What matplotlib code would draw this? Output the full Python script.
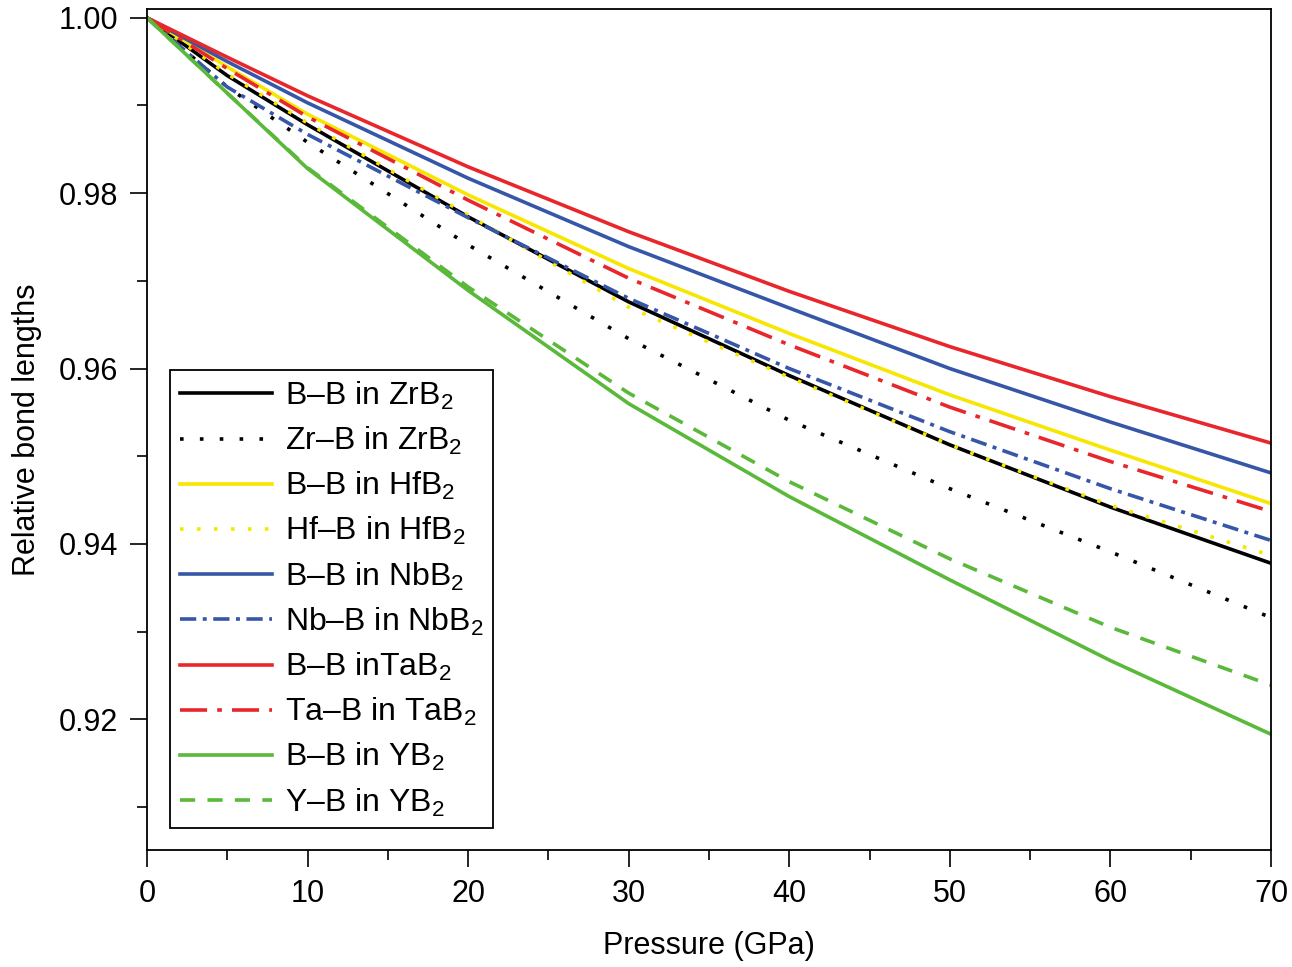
import matplotlib
matplotlib.use("Agg")
import matplotlib.pyplot as plt
from matplotlib.ticker import MultipleLocator, FormatStrFormatter

plt.rcParams['font.family'] = ['Liberation Sans', 'DejaVu Sans']
plt.rcParams['mathtext.fontset'] = 'custom'
plt.rcParams['mathtext.rm'] = 'Liberation Sans'
plt.rcParams['mathtext.it'] = 'Liberation Sans'

# pressure grid (GPa)
pressure = [0, 5, 10, 20, 30, 40, 50, 60, 70]

# relative bond lengths
bb_zr = [1.0, 0.9934, 0.9878, 0.9773, 0.9676, 0.9592, 0.9513, 0.9442, 0.9378]
zrb_zr = [1.0, 0.9921, 0.9858, 0.9741, 0.9634, 0.9541, 0.9463, 0.9391, 0.9316]
bb_hf = [1.0, 0.9944, 0.9890, 0.9798, 0.9714, 0.9640, 0.9570, 0.9507, 0.9446]
hfb_hf = [1.0, 0.9936, 0.9880, 0.9775, 0.9670, 0.9590, 0.9513, 0.9444, 0.9387]
bb_nb = [1.0, 0.9950, 0.9903, 0.9817, 0.9739, 0.9669, 0.9600, 0.9539, 0.9481]
nbb_nb = [1.0, 0.9921, 0.9867, 0.9772, 0.9680, 0.9600, 0.9528, 0.9463, 0.9404]
bb_ta = [1.0, 0.9955, 0.9911, 0.9830, 0.9756, 0.9688, 0.9625, 0.9568, 0.9515]
tab_ta = [1.0, 0.9942, 0.9887, 0.9792, 0.9703, 0.9627, 0.9556, 0.9494, 0.9437]
bb_y = [1.0, 0.9914, 0.9828, 0.9689, 0.9560, 0.9454, 0.9359, 0.9267, 0.9183]
yb_y = [1.0, 0.9914, 0.9829, 0.9693, 0.9572, 0.9471, 0.9383, 0.9305, 0.9239]

red = '#e8262b'
blue = '#3656a8'
yellow = '#f7e600'
green = '#5ab83a'

series = [
    (bb_zr, 'B\u2013B in ZrB$_2$', 'black', '-'),
    (zrb_zr, 'Zr\u2013B in ZrB$_2$', 'black', (0, (1, 4.5))),
    (bb_hf, 'B\u2013B in HfB$_2$', yellow, '-'),
    (hfb_hf, 'Hf\u2013B in HfB$_2$', yellow, (0, (1, 3.7))),
    (bb_nb, 'B\u2013B in NbB$_2$', blue, '-'),
    (nbb_nb, 'Nb\u2013B in NbB$_2$', blue, (0, (4.5, 1.8, 1.1, 1.8))),
    (bb_ta, 'B\u2013B inTaB$_2$', red, '-'),
    (tab_ta, 'Ta\u2013B in TaB$_2$', red, (0, (7.5, 2.8, 1.3, 2.8))),
    (bb_y, 'B\u2013B in YB$_2$', green, '-'),
    (yb_y, 'Y\u2013B in YB$_2$', green, (0, (4.2, 3.4))),
]

fig = plt.figure(figsize=(12.92, 9.67), dpi=100)
ax = fig.add_axes([0.1138, 0.121, 0.8699, 0.8697])

for vals, lab, col, ls in series:
    ax.plot(pressure, vals, color=col, ls=ls, lw=2.6, label=lab)

ax.set_xlim(0, 70)
ax.set_ylim(0.9051, 1.001)
ax.xaxis.set_major_locator(MultipleLocator(10))
ax.xaxis.set_minor_locator(MultipleLocator(5))
ax.yaxis.set_major_locator(MultipleLocator(0.02))
ax.yaxis.set_minor_locator(MultipleLocator(0.01))
ax.yaxis.set_major_formatter(FormatStrFormatter('%.2f'))
ax.tick_params(which='both', direction='out', top=False, right=False, labelsize=22, width=1.2)
ax.tick_params(which='major', length=12, pad=9)
ax.tick_params(which='minor', length=7)
for sp in ax.spines.values():
    sp.set_linewidth(1.3)

ax.set_xlabel('Pressure (GPa)', fontsize=22, labelpad=16)
ax.set_ylabel('Relative bond lengths', fontsize=22, labelpad=12)

leg = ax.legend(loc='lower left', bbox_to_anchor=(0.0205, 0.026), borderaxespad=0,
                fontsize=23, handlelength=2.9, handletextpad=0.4, labelspacing=0.41,
                fancybox=False, framealpha=1, edgecolor='black', borderpad=0.3)
leg.get_frame().set_linewidth(1.3)

fig.savefig('out.png', dpi=100)
